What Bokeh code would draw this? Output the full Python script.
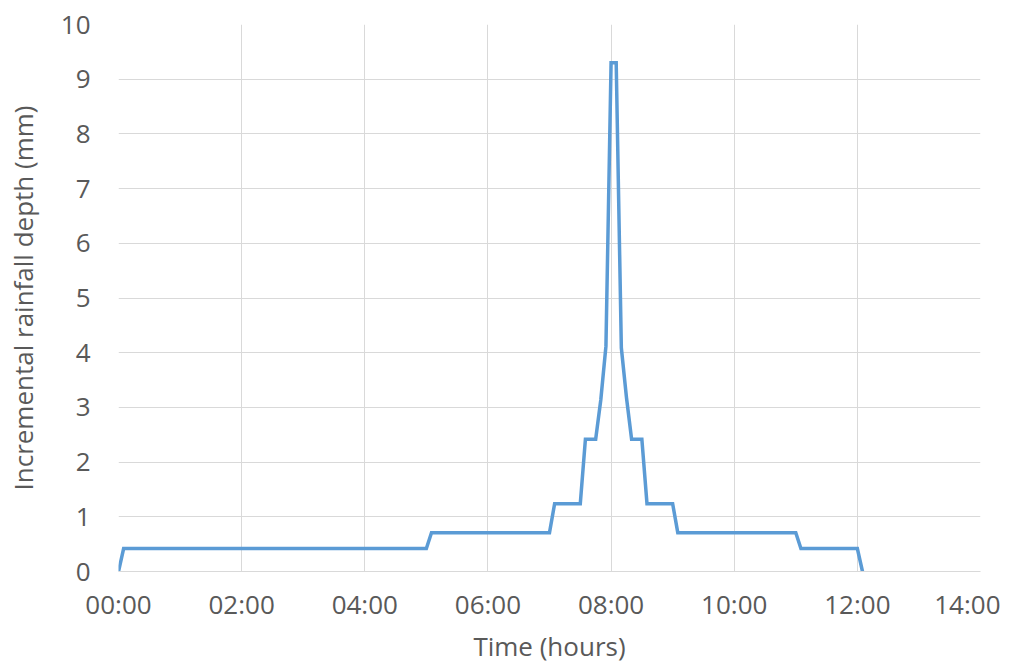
from bokeh.plotting import figure
from bokeh.models import FixedTicker
from bokeh.embed import file_html
from bokeh.resources import INLINE

# Data
times = ["00:00", "00:05", "05:00", "05:05", "07:00", "07:05", "07:30", "07:35",
         "07:45", "07:50", "07:55", "08:00", "08:05", "08:10", "08:15", "08:20",
         "08:30", "08:35", "09:00", "09:05", "11:00", "11:05", "12:00", "12:05"]
depth = [0.0, 0.42, 0.42, 0.71, 0.71, 1.24, 1.24, 2.42,
         2.42, 3.14, 4.12, 9.3, 9.3, 4.09, 3.18, 2.42,
         2.42, 1.24, 1.24, 0.71, 0.71, 0.42, 0.42, 0.0]

x_ticks = [0, 2, 4, 6, 8, 10, 12, 14]
x_tick_labels = ["00:00", "02:00", "04:00", "06:00", "08:00", "10:00", "12:00", "14:00"]
y_ticks = [0, 1, 2, 3, 4, 5, 6, 7, 8, 9, 10]

hours = [int(t.split(":")[0]) + int(t.split(":")[1]) / 60.0 for t in times]

FONT = "Open Sans"
TXT = "#595959"
GRID = "#d9d9d9"

p = figure(width=1000, height=666, x_range=(0, 14), y_range=(0, 10),
           output_backend="svg", toolbar_location=None,
           min_border_left=118, min_border_right=20,
           min_border_top=24, min_border_bottom=95)
p.outline_line_color = None

p.line(hours, depth, line_color="#5b9bd5", line_width=3.5, line_join="miter")

p.xaxis.ticker = FixedTicker(ticks=x_ticks)
p.xaxis.major_label_overrides = {t: l for t, l in zip(x_ticks, x_tick_labels)}
p.yaxis.ticker = FixedTicker(ticks=y_ticks)

for ax in (p.xaxis[0], p.yaxis[0]):
    ax.major_tick_line_color = None
    ax.minor_tick_line_color = None
    ax.major_tick_out = 0
    ax.major_label_text_font = FONT
    ax.major_label_text_font_size = "26px"
    ax.major_label_text_color = TXT
    ax.axis_label_text_font = FONT
    ax.axis_label_text_font_size = "26px"
    ax.axis_label_text_font_style = "normal"
    ax.axis_label_text_color = TXT

p.xaxis.axis_label = "Time (hours)"
p.yaxis.axis_label = "Incremental rainfall depth (mm)"
p.xaxis.axis_line_color = GRID
p.yaxis.axis_line_color = None
p.xaxis.major_label_standoff = 14
p.yaxis.major_label_standoff = 28
p.xaxis.axis_label_standoff = 3
p.yaxis.axis_label_standoff = 17

p.xgrid.grid_line_color = GRID
p.ygrid.grid_line_color = GRID
p.xgrid.grid_line_width = 1
p.ygrid.grid_line_width = 1

open("out.html", "w").write(file_html(p, INLINE))
